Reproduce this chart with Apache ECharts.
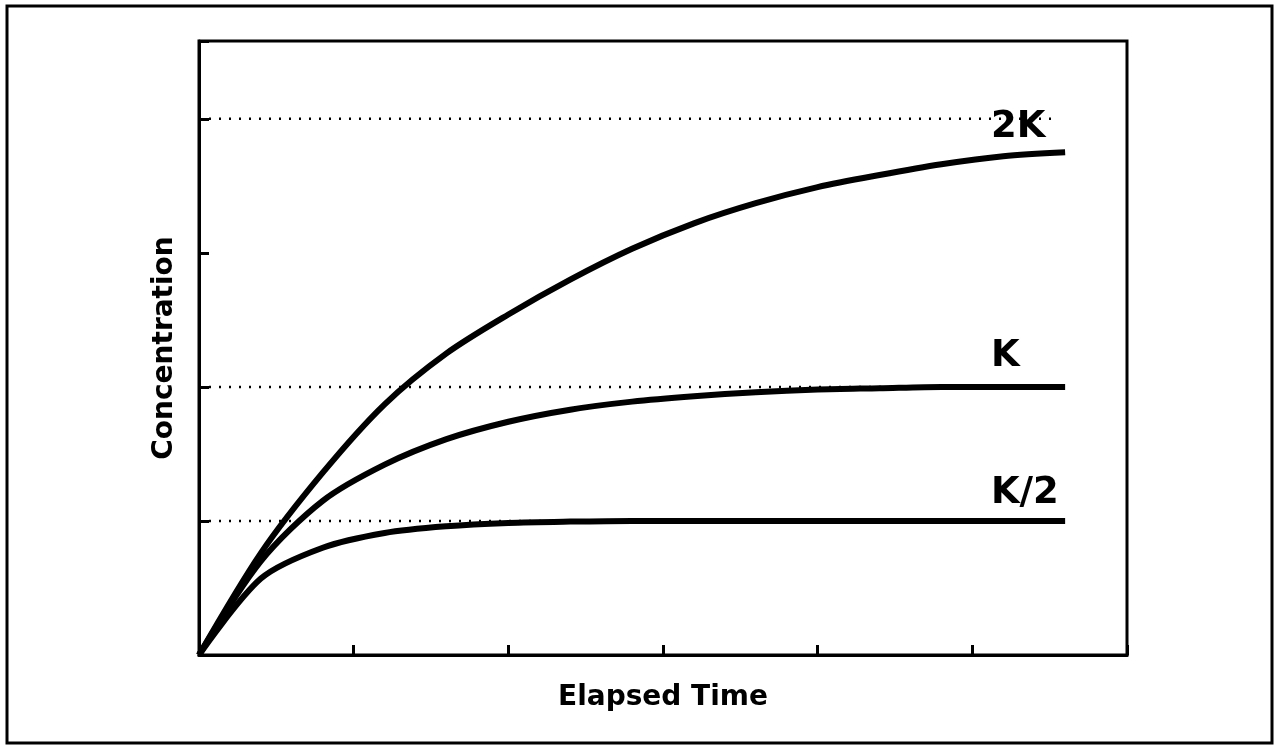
<!DOCTYPE html>
<html>
<head>
<meta charset="utf-8">
<script src="https://cdn.jsdelivr.net/npm/echarts@6/dist/echarts.min.js"></script>
<style>
html,body{margin:0;padding:0;background:#fff;}
#chart{width:1278px;height:745px;}
</style>
</head>
<body>
<div id="chart"></div>
<script>
// Elapsed time (arbitrary units)
const timePoints = [0, 0.4, 0.8, 1.2, 1.6, 2.0, 2.4, 2.8, 3.2, 3.6, 4.0, 4.4, 4.8, 5.2, 5.6];
// Concentration curves
const curve2K   = [0, 0.76, 1.36, 1.87, 2.25, 2.54, 2.80, 3.03, 3.22, 3.37, 3.49, 3.58, 3.66, 3.72, 3.75];
const curveK    = [0, 0.70, 1.15, 1.42, 1.61, 1.74, 1.83, 1.89, 1.93, 1.96, 1.98, 1.99, 2.00, 2.00, 2.00];
const curveHalf = [0, 0.57, 0.80, 0.91, 0.96, 0.985, 0.995, 1.00, 1.00, 1.00, 1.00, 1.00, 1.00, 1.00, 1.00];
// Reference levels (dotted)
const refLevels = [4, 2, 1];
const refEnd = 5.55;
// Curve labels
const labelNames = ['2K', 'K', 'K/2'];
const labelX = [5.12, 5.12, 5.12];
const labelY = [3.80, 2.09, 1.07];

const xTitle = 'Elapsed Time';
const yTitle = 'Concentration';

const zip = (xs, ys) => xs.map((x, i) => [x, ys[i]]);
const titleFont = 'DejaVu Sans';

const chart = echarts.init(document.getElementById('chart'), null, {renderer: 'canvas'});

const refSeries = refLevels.map(v => ({
  type: 'line', data: [[0, v], [refEnd, v]], symbol: 'none', silent: true, z: 1,
  lineStyle: {color: '#000', width: 2.5, type: [2, 8]}
}));

const curveStyle = {color: '#000', width: 6, cap: 'butt'};
const curves = [curve2K, curveK, curveHalf].map(c => ({
  type: 'line', data: zip(timePoints, c), symbol: 'none', smooth: 0.3, z: 3,
  lineStyle: curveStyle
}));

chart.setOption({
  animation: false,
  backgroundColor: '#fff',
  grid: {left: 199, right: 151, top: 41, bottom: 90, show: true, borderColor: '#000', borderWidth: 3, backgroundColor: 'transparent'},
  xAxis: {
    type: 'value', min: 0, max: 6, interval: 1,
    name: xTitle, nameLocation: 'middle', nameGap: 29,
    nameTextStyle: {fontFamily: titleFont, fontWeight: 'bold', fontSize: 28, color: '#000'},
    axisLine: {show: true, lineStyle: {color: '#000', width: 3}},
    axisTick: {show: true, inside: true, length: 10, lineStyle: {color: '#000', width: 3}},
    axisLabel: {show: false},
    splitLine: {show: false}
  },
  yAxis: {
    type: 'value', min: 0, max: 4.58, interval: 1,
    name: yTitle, nameLocation: 'middle', nameGap: 20, nameRotate: 90,
    nameTextStyle: {fontFamily: titleFont, fontWeight: 'bold', fontSize: 28, color: '#000'},
    axisLine: {show: true, lineStyle: {color: '#000', width: 3}},
    axisTick: {show: true, inside: true, length: 10, lineStyle: {color: '#000', width: 3}},
    axisLabel: {show: false},
    splitLine: {show: false}
  },
  graphic: [{
    type: 'rect', shape: {x: 7, y: 6, width: 1265, height: 737},
    style: {fill: 'none', stroke: '#000', lineWidth: 3}, silent: true
  }],
  series: [
    ...refSeries,
    ...curves,
    {
      type: 'scatter', symbolSize: 0, z: 4, silent: true,
      itemStyle: {opacity: 1, color: '#000'},
      data: labelNames.map((n, i) => ({value: [labelX[i], labelY[i]], name: n})),
      label: {
        show: true, position: 'inside', formatter: p => p.name,
        align: 'left', verticalAlign: 'bottom', opacity: 1,
        textBorderWidth: 0,
        fontFamily: titleFont, fontWeight: 'bold', fontSize: 37, color: '#000'
      }
    }
  ]
});
</script>
</body>
</html>
